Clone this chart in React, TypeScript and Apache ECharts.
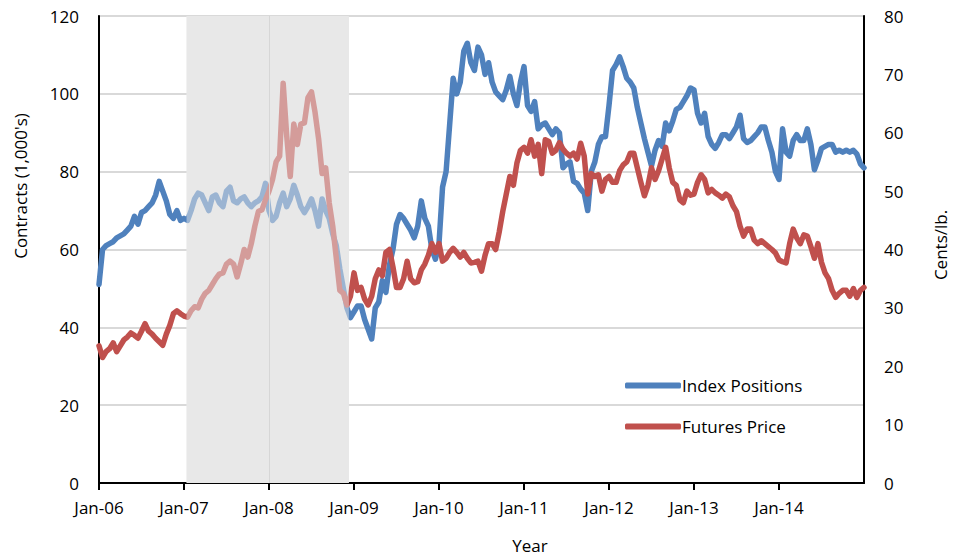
import React, { useEffect, useRef } from "react";
import * as echarts from "echarts";

// x tick labels (one per January)
const xLabels = ["Jan-06", "Jan-07", "Jan-08", "Jan-09", "Jan-10", "Jan-11", "Jan-12", "Jan-13", "Jan-14"];

// Index Positions (contracts, 1,000's) – semi-monthly readings
const blue2006 = [51, 60, 61, 61.5, 62, 63, 63.5, 64, 65, 66, 68.5, 66.5, 69.5, 70, 71, 72, 74, 77.5, 75, 72.5, 69, 68, 70, 67.5];
const blue2007 = [68, 67.5, 70, 73, 74.5, 74, 72, 70, 73.5, 74, 72, 71, 75, 76, 72.5, 72, 73, 73.5, 72, 71, 72, 72.5, 73.5, 77];
const blue2008 = [70, 67.5, 68.5, 72, 74.5, 71, 73, 76.5, 74, 71, 69.5, 71, 73, 70, 66, 73, 70, 68, 64, 61, 55, 50, 45, 42.5];
const blue2009 = [44, 45.5, 45.5, 42, 39.5, 37, 45, 46.5, 52, 49, 56, 60, 66.5, 69, 68, 66.5, 65, 63, 66, 72.5, 68, 66, 60, 57.5];
const blue2010 = [61.5, 76, 80, 92, 104, 100, 103, 111, 113, 108, 106, 112, 110, 105, 108, 103, 100.5, 99.5, 98.5, 101, 104.5, 100, 97, 103];
const blue2011 = [107, 97, 95.5, 98, 91, 92, 92.5, 91, 89.5, 91, 90, 81, 82, 82.5, 77.5, 77, 75.5, 74.5, 70, 80, 82.5, 87, 89, 89];
const blue2012 = [97, 106, 107.5, 109.5, 107, 104, 103, 101.5, 96.5, 92.5, 88.5, 85, 81.5, 85.5, 88, 86.5, 92.5, 90.5, 93, 96, 96.5, 98, 99.5, 101.5];
const blue2013 = [101, 95, 92.5, 95, 89, 87, 86, 87.5, 89.5, 89.5, 88.5, 90, 91.5, 94.5, 88.5, 87.5, 88, 89, 90, 91.5, 91.5, 88, 85, 80];
const blue2014 = [78, 91, 85, 84, 88, 89.5, 88, 88, 91, 87, 80.5, 83, 86, 86.5, 87, 87, 85, 85.5, 85, 85.5, 85, 85.5, 84.5, 82, 81];

// Futures Price (cents/lb.) – semi-monthly readings
const red2006 = [23.5, 21.5, 22.5, 23, 24, 22.5, 23.5, 24.5, 25, 25.7, 25.3, 24.8, 26, 27.3, 26, 25.5, 24.8, 24.2, 23.6, 25.5, 27, 29, 29.5, 29];
const red2007 = [28.6, 28.4, 29.5, 30.2, 30, 31.5, 32.5, 33, 34, 35, 35.8, 36, 37.5, 38, 37.5, 35.3, 37.5, 40, 38.7, 41, 44, 46.5, 46.8, 48.5];
const red2008 = [50, 52, 55, 56, 68.5, 59.5, 52.5, 61.5, 58, 61.5, 61.7, 66, 67, 63.5, 59, 53, 54, 48, 44, 38.5, 33, 32.5, 30.5, 32];
const red2009 = [36, 33, 33.5, 31.5, 30.5, 32, 35, 36.5, 35.5, 39.5, 40, 37, 33.5, 33.5, 35, 38, 35, 34.3, 34.5, 36.5, 37.5, 39, 41, 39.5];
const red2010 = [41, 38, 38.5, 39.5, 40.2, 39.5, 38.7, 39.5, 38.5, 37.7, 37.8, 38, 36.3, 39, 41, 41, 40, 43, 46.5, 49.5, 52.5, 51, 54.8, 57];
const red2011 = [57.5, 56.5, 58.8, 56, 58, 53, 58.8, 58.5, 56.5, 57, 58.3, 57.2, 56.5, 56, 56.5, 55.5, 58.2, 56, 49.5, 53, 52.5, 52.8, 50, 52];
const red2012 = [52.5, 51.5, 51.5, 53.5, 54.5, 55, 56.5, 56.5, 54, 51.5, 49.2, 51, 54, 52, 53.5, 55.5, 57.5, 54, 51.5, 51, 48.5, 48, 50, 49.3];
const red2013 = [49.5, 51.5, 52.8, 52, 49.7, 50.3, 49.7, 49.3, 48.8, 49.5, 49, 47.5, 46.5, 44, 42.3, 43.5, 43.5, 41.6, 41, 41.5, 41, 40.5, 40, 39.4];
const red2014 = [38.2, 37.9, 37.7, 41, 43.5, 42, 41, 42.5, 42.3, 40.5, 38.5, 41, 37.8, 36, 35, 33, 31.8, 32.5, 33, 33, 32, 33.3, 31.8, 33, 33.5];

// shaded period (fractional years)
const shadeStart = 2007.03;
const shadeEnd = 2008.94;
const firstYear = 2006;
const samplesPerYear = 24;

const blueValues = [...blue2006, ...blue2007, ...blue2008, ...blue2009, ...blue2010, ...blue2011, ...blue2012, ...blue2013, ...blue2014];
const redValues = [...red2006, ...red2007, ...red2008, ...red2009, ...red2010, ...red2011, ...red2012, ...red2013, ...red2014];

const FONT = "'Open Sans', 'Noto Sans', sans-serif";

export default function App() {
  const ref = useRef<HTMLDivElement>(null);
  useEffect(() => {
    if (!ref.current) return;
    const chart = echarts.init(ref.current, null, { renderer: "svg" });
    const blueData = blueValues.map((v, i) => [firstYear + i / samplesPerYear, v]);
    const redData = redValues.map((v, i) => [firstYear + i / samplesPerYear, v]);
    chart.setOption({
      animation: false,
      backgroundColor: "#ffffff",
      grid: {
        left: 99,
        right: 89,
        top: 16,
        bottom: 73,
        show: true,
        borderColor: "#000000",
        borderWidth: 1.2,
        backgroundColor: "transparent",
      },
      legend: {
        orient: "vertical",
        left: 620,
        top: 372,
        itemWidth: 56,
        itemHeight: 6,
        itemGap: 24,
        icon: "roundRect",
        textStyle: { fontFamily: FONT, fontSize: 17, color: "#000000", padding: [0, 0, 0, -4] },
        data: [
          { name: "Index Positions", itemStyle: { color: "#4f81bd" } },
          { name: "Futures Price", itemStyle: { color: "#c0504d" } },
        ],
      },
      xAxis: {
        type: "value",
        min: 2006,
        max: 2015,
        interval: 1,
        axisLine: { show: true, lineStyle: { color: "#000000", width: 2 } },
        axisTick: { show: true, length: 7, lineStyle: { color: "#000000", width: 2 } },
        splitLine: { show: false },
        axisLabel: {
          margin: 16,
          showMaxLabel: false,
          fontFamily: FONT,
          fontSize: 17,
          color: "#000000",
          formatter: (v: number) => xLabels[Math.round(v - firstYear)] ?? "",
        },
      },
      yAxis: [
        {
          type: "value",
          min: 0,
          max: 120,
          interval: 20,
          axisLine: { show: true, lineStyle: { color: "#000000", width: 2 } },
          axisTick: { show: false },
          splitLine: { show: true, lineStyle: { color: "#d9d9d9", width: 2 } },
          axisLabel: { margin: 20, fontFamily: FONT, fontSize: 17, color: "#000000" },
        },
        {
          type: "value",
          min: 0,
          max: 80,
          interval: 10,
          position: "right",
          axisLine: { show: true, lineStyle: { color: "#000000", width: 2 } },
          axisTick: { show: false },
          splitLine: { show: false },
          axisLabel: { margin: 20, fontFamily: FONT, fontSize: 17, color: "#000000" },
        },
      ],
      graphic: [
        {
          type: "text",
          x: 20,
          y: 186,
          rotation: Math.PI / 2,
          style: { text: "Contracts (1,000's)", fontFamily: FONT, fontSize: 17, fill: "#000000", align: "center", verticalAlign: "middle" },
        },
        {
          type: "text",
          x: 940,
          y: 245,
          rotation: Math.PI / 2,
          style: { text: "Cents/lb.", fontFamily: FONT, fontSize: 17, fill: "#000000", align: "center", verticalAlign: "middle" },
        },
        {
          type: "text",
          x: 530,
          y: 545,
          style: { text: "Year", fontFamily: FONT, fontSize: 17, fill: "#000000", align: "center", verticalAlign: "middle" },
        },
      ],
      series: [
        {
          name: "Index Positions",
          type: "line",
          yAxisIndex: 0,
          data: blueData,
          showSymbol: false,
          symbol: "none",
          z: 2,
          lineStyle: { color: "#4f81bd", width: 5.5, join: "round", cap: "round" },
          itemStyle: { color: "#4f81bd" },
          markArea: {
            silent: true,
            itemStyle: { color: "#e8e8e8", opacity: 1 },
            data: [[{ xAxis: shadeStart }, { xAxis: shadeEnd }]],
          },
        },
        {
          name: "Futures Price",
          type: "line",
          yAxisIndex: 1,
          data: redData,
          showSymbol: false,
          symbol: "none",
          z: 3,
          lineStyle: { color: "#c0504d", width: 5.5, join: "round", cap: "round" },
          itemStyle: { color: "#c0504d" },
          markArea: {
            silent: true,
            z: 10,
            itemStyle: { color: "rgba(232,232,232,0.5)", opacity: 1 },
            data: [[{ xAxis: shadeStart }, { xAxis: shadeEnd }]],
          },
          markLine: {
            silent: true,
            z: 11,
            symbol: "none",
            label: { show: false },
            lineStyle: { color: "#d6d6d6", width: 1, type: "solid" },
            data: [{ xAxis: 2008 }],
          },
        },
      ],
    });
    return () => chart.dispose();
  }, []);
  return <div ref={ref} style={{ position: "fixed", left: 0, top: 0, width: 953, height: 556 }} />;
}
